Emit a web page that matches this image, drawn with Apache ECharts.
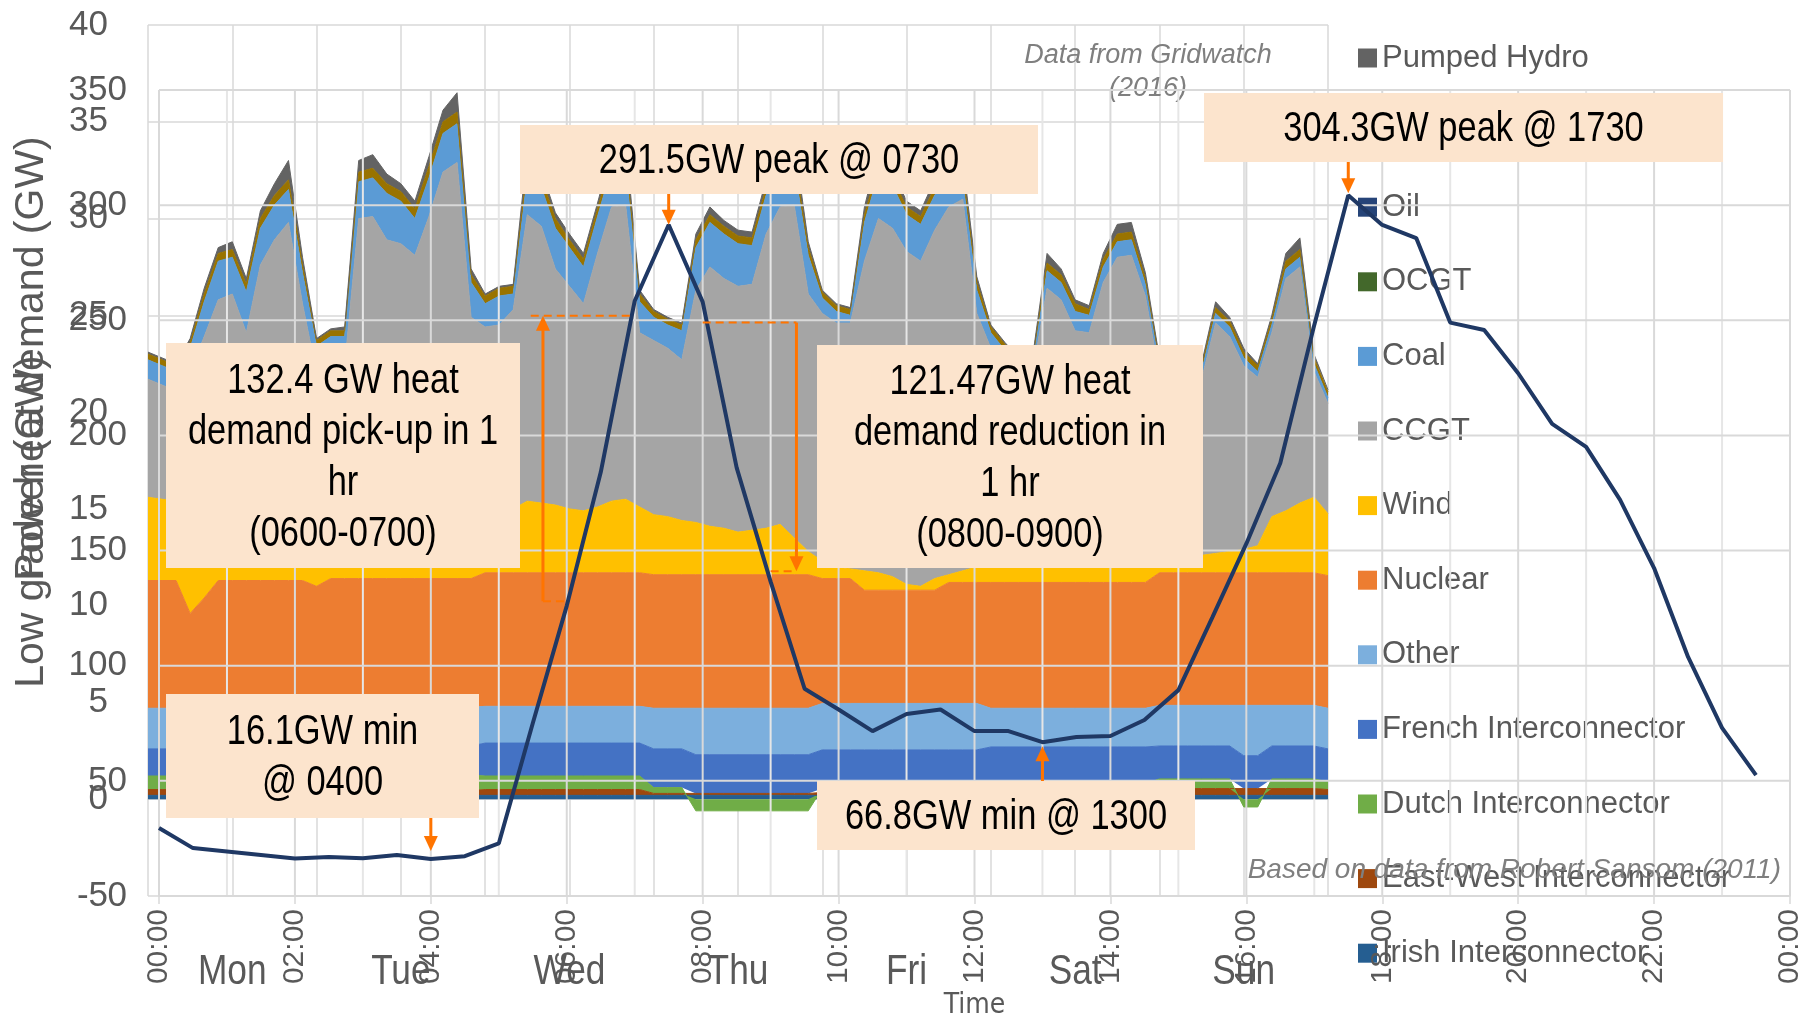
<!DOCTYPE html>
<html>
<head>
<meta charset="utf-8">
<title>Heat demand vs generation</title>
<script src="https://cdn.jsdelivr.net/npm/echarts@6/dist/echarts.min.js"></script>
<style>
  html, body { margin: 0; padding: 0; background: #fff; }
  #chart { width: 1819px; height: 1018px; }
</style>
</head>
<body>
<div id="chart"></div>
<script>
// Gridwatch week (2016), GW, one value every 2 hours from Mon 00:00 to next Mon 00:00
var days = ['Mon', 'Tue', 'Wed', 'Thu', 'Fri', 'Sat', 'Sun'];

var irish = [
  0.2, 0.2, 0.2, 0.2, 0.2, 0.2, 0.2, 0.2, 0.2, 0.2, 0.2, 0.2,
  0.2, 0.2, 0.2, 0.2, 0.2, 0.2, 0.2, 0.2, 0.2, 0.2, 0.2, 0.2,
  0.2, 0.2, 0.2, 0.2, 0.2, 0.2, 0.2, 0.2, 0.2, 0.2, 0.2, 0.2,
  0.2, 0.2, 0.2, 0.2, 0.2, 0.2, 0.2, 0.2, 0.2, 0.2, 0.2, 0.2,
  0.2, 0.2, 0.2, 0.2, 0.2, 0.2, 0.2, 0.2, 0.2, 0.2, 0.2, 0.2,
  0.2, 0.2, 0.2, 0.2, 0.2, 0.2, 0.2, 0.2, 0.2, 0.2, 0.2, 0.2,
  0.2, 0.2, 0.2, 0.2, 0.2, 0.2, 0.2, 0.2, 0.2, 0.2, 0.2, 0.2, 0.2
];
var eastWest = [
  0.3, 0.3, 0.3, 0.3, 0.3, 0.3, 0.3, 0.3, 0.3, 0.3, 0.3, 0.3,
  0.25, 0.25, 0.25, 0.25, 0.25, 0.25, 0.25, 0.25, 0.25, 0.25, 0.25, 0.25,
  0.3, 0.3, 0.3, 0.3, 0.3, 0.3, 0.3, 0.3, 0.3, 0.3, 0.3, 0.3,
  0.1, 0.1, 0.1, 0.1, 0.1, 0.1, 0.1, 0.1, 0.1, 0.1, 0.1, 0.1,
  0.15, 0.15, 0.15, 0.15, 0.15, 0.15, 0.15, 0.15, 0.15, 0.15, 0.15, 0.15,
  0.3, 0.3, 0.3, 0.3, 0.3, 0.3, 0.3, 0.3, 0.3, 0.3, 0.3, 0.3,
  0.35, 0.35, 0.35, 0.35, 0.35, 0.35, 0.35, 0.35, 0.35, 0.35, 0.35, 0.35, 0.3
];
var dutch = [
  0.7, 0.7, 0.7, 0.7, 0.7, 0.7, 0.7, 0.7, 0.7, 0.7, 0.7, 0.7,
  0.8, 0.8, 0.8, 0.8, 0.8, 0.8, 0.8, 0.8, 0.8, 0.8, 0.8, 0.8,
  0.7, 0.7, 0.7, 0.7, 0.7, 0.7, 0.7, 0.7, 0.7, 0.7, 0.7, 0.7,
  0.3, 0.3, 0.3, -0.6, -0.6, -0.6, -0.6, -0.6, -0.6, -0.6, -0.6, -0.6,
  0.2, 0.2, 0.2, 0.2, 0.2, 0.2, 0.2, 0.2, 0.2, 0.2, 0.2, 0.2,
  0.3, 0.3, 0.3, 0.3, 0.3, 0.3, 0.3, 0.3, 0.3, 0.3, 0.3, 0.3,
  0.5, 0.5, 0.5, 0.5, 0.5, 0.5, -0.4, -0.4, 0.5, 0.5, 0.5, 0.5, 0.4
];
var french = [
  1.4, 1.4, 1.4, 1.4, 1.4, 1.4, 1.4, 1.4, 1.4, 1.4, 1.4, 1.4,
  1.5, 1.5, 1.5, 1.5, 1.5, 1.5, 1.5, 1.5, 1.5, 1.5, 1.5, 1.5,
  1.7, 1.7, 1.7, 1.7, 1.7, 1.7, 1.7, 1.7, 1.7, 1.7, 1.7, 1.7,
  2.0, 2.0, 2.0, 2.0, 2.0, 2.0, 2.0, 2.0, 2.0, 2.0, 2.0, 2.0,
  2.0, 2.0, 2.0, 2.0, 2.0, 2.0, 2.0, 2.0, 2.0, 2.0, 2.0, 2.0,
  1.9, 1.9, 1.9, 1.9, 1.9, 1.9, 1.9, 1.9, 1.9, 1.9, 1.9, 1.9,
  1.7, 1.7, 1.7, 1.7, 1.7, 1.7, 1.7, 1.7, 1.7, 1.7, 1.7, 1.7, 1.7
];
var other = [
  2.1, 2.1, 2.1, 2.1, 2.1, 2.1, 2.1, 2.1, 2.1, 2.1, 2.1, 2.1,
  2.0, 2.0, 2.0, 2.0, 2.0, 2.0, 2.0, 2.0, 2.0, 2.0, 2.0, 2.0,
  1.9, 1.9, 1.9, 1.9, 1.9, 1.9, 1.9, 1.9, 1.9, 1.9, 1.9, 1.9,
  2.1, 2.1, 2.1, 2.4, 2.4, 2.4, 2.4, 2.4, 2.4, 2.4, 2.4, 2.4,
  2.4, 2.4, 2.4, 2.4, 2.4, 2.4, 2.4, 2.4, 2.4, 2.4, 2.4, 2.4,
  2.0, 2.0, 2.0, 2.0, 2.0, 2.0, 2.0, 2.0, 2.0, 2.0, 2.0, 2.0,
  2.1, 2.1, 2.1, 2.1, 2.1, 2.1, 2.6, 2.6, 2.1, 2.1, 2.1, 2.1, 2.1
];
var nuclear = [
  6.6, 6.6, 6.6, 4.9, 5.7, 6.6, 6.6, 6.6, 6.6, 6.6, 6.6, 6.6,
  6.25, 6.65, 6.65, 6.65, 6.65, 6.65, 6.65, 6.65, 6.65, 6.65, 6.65, 6.65,
  6.9, 6.9, 6.9, 6.9, 6.9, 6.9, 6.9, 6.9, 6.9, 6.9, 6.9, 6.9,
  6.9, 6.9, 6.9, 6.9, 6.9, 6.9, 6.9, 6.9, 6.9, 6.9, 6.9, 6.9,
  6.45, 6.45, 6.45, 5.85, 5.85, 5.85, 5.85, 5.85, 5.85, 6.25, 6.25, 6.25,
  6.5, 6.5, 6.5, 6.5, 6.5, 6.5, 6.5, 6.5, 6.5, 6.5, 6.5, 6.5,
  6.85, 6.85, 6.85, 6.85, 6.85, 6.85, 6.85, 6.85, 6.85, 6.85, 6.85, 6.85, 6.85
];
var wind = [
  4.3, 4.2, 4.1, 5.7, 4.8, 3.8, 3.7, 3.7, 3.6, 3.5, 3.5, 3.4,
  3.6, 3.1, 3.0, 2.9, 2.8, 2.7, 2.6, 2.6, 2.6, 2.7, 2.8, 2.9,
  2.7, 2.9, 3.3, 3.7, 3.6, 3.5, 3.3, 3.2, 3.4, 3.7, 3.8, 3.4,
  3.1, 3.0, 2.8, 2.7, 2.5, 2.4, 2.2, 2.3, 2.4, 2.6, 1.9, 1.2,
  0.9, 0.6, 0.5, 1.0, 0.9, 0.7, 0.3, 0.2, 0.6, 0.4, 0.6, 0.8,
  0.8, 0.8, 0.9, 1.0, 1.1, 1.1, 1.0, 0.8, 0.9, 1.1, 1.2, 1.3,
  0.8, 0.9, 0.9, 0.9, 1.0, 1.1, 1.2, 1.4, 2.9, 3.2, 3.6, 3.9, 3.2
];
var ccgt = [
  6.1, 5.9, 5.7, 6.8, 8.7, 10.7, 11.1, 9.1, 12.7, 14.1, 15.0, 10.9,
  7.4, 7.9, 8.0, 15.7, 15.9, 14.8, 14.7, 14.1, 16.1, 18.3, 18.7, 10.6,
  10.0, 9.9, 10.3, 14.8, 14.3, 12.2, 11.5, 10.7, 13.1, 15.2, 15.2, 9.0,
  9.0, 8.7, 8.3, 12.0, 13.4, 12.9, 12.7, 12.7, 15.2, 16.4, 17.2, 13.3,
  12.8, 12.6, 12.7, 16.0, 18.3, 18.0, 17.2, 16.8, 18.0, 19.0, 19.2, 13.1,
  11.3, 10.6, 9.8, 9.9, 14.1, 13.5, 12.0, 12.1, 14.6, 15.7, 15.7, 13.5,
  9.4, 8.9, 8.6, 9.1, 11.9, 11.1, 9.5, 8.7, 9.5, 12.0, 12.2, 6.5, 5.7
];
var coal = [
  1.0, 1.0, 1.0, 1.2, 1.8, 2.0, 1.9, 2.1, 1.9, 1.8, 1.7, 1.6,
  1.4, 1.5, 1.5, 1.9, 2.0, 2.4, 2.2, 1.9, 2.0, 2.0, 2.0, 1.8,
  1.2, 1.5, 0.8, 2.0, 2.0, 2.1, 2.0, 1.9, 1.9, 2.0, 2.0, 1.6,
  1.2, 1.2, 1.5, 2.2, 2.3, 2.3, 2.2, 2.0, 2.0, 2.0, 2.0, 2.0,
  0.8, 0.6, 0.4, 2.0, 2.3, 2.2, 1.9, 1.9, 1.8, 1.5, 1.0, 1.2,
  0.8, 0.6, 0.5, 0.5, 0.9, 0.9, 1.0, 0.9, 0.8, 0.8, 0.8, 0.6,
  0.5, 0.4, 0.4, 0.4, 0.5, 0.5, 0.4, 0.3, 0.4, 0.5, 0.5, 0.4, 0.3
];
var hydro = [
  0.3, 0.3, 0.3, 0.3, 0.4, 0.4, 0.4, 0.4, 0.5, 0.5, 0.5, 0.4,
  0.3, 0.3, 0.3, 0.5, 0.5, 0.5, 0.5, 0.5, 0.6, 0.6, 0.6, 0.4,
  0.4, 0.4, 0.4, 0.5, 0.5, 0.5, 0.4, 0.4, 0.4, 0.5, 0.5, 0.4,
  0.3, 0.3, 0.3, 0.4, 0.4, 0.4, 0.4, 0.4, 0.4, 0.4, 0.5, 0.4,
  0.3, 0.3, 0.3, 0.4, 0.4, 0.4, 0.4, 0.4, 0.4, 0.4, 0.4, 0.4,
  0.3, 0.3, 0.3, 0.3, 0.4, 0.4, 0.4, 0.3, 0.4, 0.4, 0.4, 0.3,
  0.3, 0.3, 0.3, 0.3, 0.3, 0.3, 0.3, 0.3, 0.3, 0.4, 0.4, 0.3, 0.3
];
var pumpedHydro = [
  0.1, 0.1, 0.1, 0.2, 0.3, 0.3, 0.4, 0.3, 0.4, 0.6, 1.0, 0.4,
  0.1, 0.1, 0.2, 0.6, 0.7, 0.5, 0.4, 0.4, 0.5, 0.6, 1.0, 0.3,
  0.1, 0.1, 0.1, 0.8, 0.4, 0.3, 0.3, 0.3, 0.3, 0.4, 0.8, 0.2,
  0.1, 0.1, 0.1, 0.3, 0.4, 0.3, 0.3, 0.3, 0.4, 0.5, 0.8, 0.3,
  0.1, 0.1, 0.1, 0.4, 0.8, 0.4, 0.3, 0.3, 0.4, 0.5, 0.6, 0.3,
  0.1, 0.1, 0.1, 0.1, 0.5, 0.3, 0.2, 0.2, 0.3, 0.5, 0.5, 0.3,
  0.1, 0.1, 0.1, 0.1, 0.3, 0.2, 0.2, 0.1, 0.2, 0.4, 0.6, 0.2, 0.1
];

// Sansom (2011) low grade heat demand, GW, every half hour from 00:00
var heatDemand = [
  29.5, 20.8, 19.3, 17.8, 16.3, 16.9, 16.4, 17.8, 16.1, 17.3, 22.8, 75,
  126, 184, 258.4, 291.5, 258, 186, 136.5, 90, 81, 71.6, 79, 81,
  71.6, 71.6, 66.8, 69, 69.5, 76.4, 89.4, 121, 153, 188, 248, 304.3,
  291.4, 285.7, 249, 245.8, 227, 205, 195, 172, 142.4, 103.8, 73, 52.5
];
var timeLabels = ['00:00', '02:00', '04:00', '06:00', '08:00', '10:00', '12:00',
                  '14:00', '16:00', '18:00', '20:00', '22:00', '00:00'];

var legendNames = ['Pumped Hydro', 'Hydro', 'Oil', 'OCGT', 'Coal', 'CCGT', 'Wind', 'Nuclear', 'Other',
  'French Interconnector', 'Dutch Interconnector', 'East-West Interconnector', 'Irish Interconnector'];

// hour slots of the generation week (category axis, every 2 h)
var genSlots = [];
for (var s = 0; s < irish.length; s++) genSlots.push(String(s * 2));

var REG = "'Liberation Sans', Arial, sans-serif";
var NARROW = "'Liberation Sans Narrow', 'Arial Narrow', 'DejaVu Sans Condensed', sans-serif";
var GREY = '#595959';
var GRID = '#d9d9d9';
var ORANGE = '#ff7400';
var PEACH = '#fce4cd';

var chart = echarts.init(document.getElementById('chart'));

// stacking order, bottom first
var layers = [
  {name: 'Irish Interconnector', data: irish, color: '#255e91'},
  {name: 'East-West Interconnector', data: eastWest, color: '#9e480e'},
  {name: 'Dutch Interconnector', data: dutch, color: '#70ad47'},
  {name: 'French Interconnector', data: french, color: '#4472c4'},
  {name: 'Other', data: other, color: '#7cafdd'},
  {name: 'Nuclear', data: nuclear, color: '#ed7d31'},
  {name: 'Wind', data: wind, color: '#ffc000'},
  {name: 'CCGT', data: ccgt, color: '#a5a5a5'},
  {name: 'Coal', data: coal, color: '#5b9bd5'},
  {name: 'Hydro', data: hydro, color: '#997300'},
  {name: 'Pumped Hydro', data: pumpedHydro, color: '#636363'}
];

var series = [];
layers.forEach(function (l) {
  series.push({
    name: l.name,
    type: 'line',
    xAxisIndex: 0,
    yAxisIndex: 0,
    stack: 'gen',
    data: l.data,
    symbol: 'none',
    lineStyle: {width: 1, color: l.color},
    areaStyle: {color: l.color, opacity: 1},
    itemStyle: {color: l.color},
    z: 1,
    silent: true
  });
});
// in the legend only, nothing visible in the week
series.push({name: 'Oil', type: 'line', xAxisIndex: 0, yAxisIndex: 0, data: [], itemStyle: {color: '#264478'}});
series.push({name: 'OCGT', type: 'line', xAxisIndex: 0, yAxisIndex: 0, data: [], itemStyle: {color: '#43682b'}});

// the heat chart sits on its own layer, above the generation chart
series.push({
  name: 'Low grade heat demand',
  type: 'line',
  xAxisIndex: 2,
  yAxisIndex: 1,
  data: heatDemand.map(function (v, i) { return [i * 0.5, v]; }),
  symbol: 'none',
  lineStyle: {color: '#1f3864', width: 4},
  itemStyle: {color: '#1f3864'},
  zlevel: 1,
  z: 6,
  silent: true
});

var option = {
  animation: false,
  backgroundColor: '#fff',
  grid: [
    {left: 148, top: 25, width: 1180, height: 871, outerBoundsMode: 'none'},
    {left: 159, top: 90, width: 1631, height: 806, outerBoundsMode: 'none'}
  ],
  xAxis: [
    {
      gridIndex: 0, type: 'category', data: genSlots, boundaryGap: false,
      axisLabel: {show: false}, axisTick: {show: false},
      axisLine: {show: true, lineStyle: {color: GRID, width: 1.5}},
      splitLine: {show: true, interval: 5, lineStyle: {color: GRID, width: 1.5}}
    },
    {
      gridIndex: 0, type: 'category', data: days, position: 'bottom', offset: 0,
      boundaryGap: true,
      axisLine: {show: false}, axisTick: {show: false}, splitLine: {show: false},
      axisLabel: {show: false}
    },
    {
      gridIndex: 1, type: 'value', min: 0, max: 24, interval: 2, zlevel: 1, z: 3,
      axisLine: {show: true, lineStyle: {color: GRID, width: 1.5}},
      axisTick: {show: true, length: 8, lineStyle: {color: GRID, width: 1.5}},
      splitLine: {show: false},
      axisLabel: {
        rotate: 90, fontFamily: REG, fontSize: 30, color: GREY, margin: 13,
        formatter: function (v) { return timeLabels[v / 2]; }
      },
      name: 'Time', nameLocation: 'middle', nameGap: 96,
      nameTextStyle: {fontFamily: NARROW, fontSize: 28, color: GREY}
    }
  ],
  yAxis: [
    {
      gridIndex: 0, type: 'value', min: -5, max: 40, interval: 5,
      axisLine: {show: false}, axisTick: {show: false},
      splitLine: {show: true, lineStyle: {color: GRID, width: 1.5}},
      axisLabel: {fontFamily: REG, fontSize: 35, color: GREY, margin: 40}
    },
    {
      gridIndex: 1, type: 'value', min: 0, max: 350, interval: 50, zlevel: 1, z: 3,
      axisLine: {show: false}, axisTick: {show: false},
      splitLine: {show: false},
      axisLabel: {fontFamily: REG, fontSize: 35, color: GREY, margin: 32}
    }
  ],
  legend: {
    data: legendNames,
    orient: 'vertical',
    left: 1353,
    top: 36,
    icon: 'rect',
    itemWidth: 19,
    itemHeight: 19,
    itemGap: 40.6,
    selectedMode: false,
    textStyle: {fontFamily: REG, fontSize: 31, color: GREY, lineHeight: 34, padding: [0, 0, 0, 0]},
    z: 2
  },
  series: series
};
chart.setOption(option);

// annotations: boxes are layout, arrow tips come from the heat-demand scale
function px(h, v) {
  return chart.convertToPixel({xAxisIndex: 2, yAxisIndex: 1}, [h, v]);
}
function narrowText(x, y, text, size, color, extra) {
  var el = {type: 'text', x: x, y: y, scaleX: 0.82, zlevel: 1, z: 21,
    style: {text: text, fill: color, font: size + 'px ' + REG, align: 'center', verticalAlign: 'middle'}};
  if (extra) for (var k in extra) el.style[k] = extra[k];
  return el;
}
function box(x, y, w, h, text) {
  return [
    {type: 'rect', shape: {x: x, y: y, width: w, height: h}, style: {fill: PEACH}, zlevel: 1, z: 20},
    narrowText(x + w / 2, y + h / 2 + 2, text, 42, '#000', {lineHeight: 51})
  ];
}
function arrow(x, yFrom, yTo) {
  var dir = yTo > yFrom ? 1 : -1;
  return [
    {type: 'line', shape: {x1: x, y1: yFrom, x2: x, y2: yTo - dir * 12}, style: {stroke: ORANGE, lineWidth: 3}, zlevel: 1, z: 22},
    {type: 'polygon', shape: {points: [[x - 7, yTo - dir * 15], [x + 7, yTo - dir * 15], [x, yTo]]}, style: {fill: ORANGE}, zlevel: 1, z: 22}
  ];
}
function dash(x1, x2, y) {
  return {type: 'line', shape: {x1: x1, y1: y, x2: x2, y2: y}, style: {stroke: ORANGE, lineWidth: 2, lineDash: [8, 5]}, zlevel: 1, z: 22};
}

var g = [];

// the heat chart's grid is pasted over the generation areas: its lines go on the top layer
var hTop = px(0, 350)[1], hBottom = px(0, 0)[1];
var hLeft = px(0, 0)[0], hRight = px(24, 0)[0];
for (var hr = 0; hr <= 24; hr++) {
  var gx = px(hr, 0)[0];
  g.push({type: 'line', shape: {x1: gx, y1: hTop, x2: gx, y2: hBottom}, silent: true,
    style: {stroke: hr % 2 === 0 ? GRID : '#e6e6e6', lineWidth: 2}, zlevel: 1, z: 2});
}
for (var gv = 0; gv <= 350; gv += 50) {
  var gy = px(0, gv)[1];
  g.push({type: 'line', shape: {x1: hLeft, y1: gy, x2: hRight, y2: gy}, silent: true,
    style: {stroke: GRID, lineWidth: 2}, zlevel: 1, z: 2});
}

// axis names (the two charts' titles sit on top of each other)
g.push({type: 'text', x: 32, y: 412, rotation: Math.PI / 2, zlevel: 1, z: 5,
  style: {text: 'Low grade heat demand (GW)', fill: GREY, font: '41px ' + REG, align: 'center', verticalAlign: 'middle'}});
g.push({type: 'text', x: 32, y: 468, rotation: Math.PI / 2, z: 5,
  style: {text: 'Power (GW)', fill: GREY, font: '41px ' + REG, align: 'center', verticalAlign: 'middle'}});

// day names under the generation week
days.forEach(function (d) {
  var x = chart.convertToPixel({xAxisIndex: 1}, d);
  var t = narrowText(x, 972, d, 43, GREY, {});
  t.zlevel = 0; t.z = 5;
  g.push(t);
});

g = g.concat(box(166, 343, 354, 225, '132.4 GW heat\ndemand pick-up in 1\nhr\n(0600-0700)'));
g = g.concat(box(520, 125, 518, 69, '291.5GW peak @ 0730'));
g = g.concat(box(1204, 93, 519, 69, '304.3GW peak @ 1730'));
g = g.concat(box(817, 345, 386, 223, '121.47GW heat\ndemand reduction in\n1 hr\n(0800-0900)'));
g = g.concat(box(166, 694, 313, 124, '16.1GW min\n@ 0400'));
g = g.concat(box(817, 781, 378, 69, '66.8GW min @ 1300'));

var p;
p = px(7.5, 291.5); g = g.concat(arrow(p[0], 194, p[1]));
p = px(17.5, 304.3); g = g.concat(arrow(p[0], 162, p[1] - 2));
p = px(4, 16.1); g = g.concat(arrow(p[0], 818, p[1] - 8));
p = px(13, 66.8); g = g.concat(arrow(p[0], 781, p[1] + 4));

// pick-up 06:00 -> 07:00
var a1 = px(5.65, 128), a2 = px(5.65, 252), a3 = px(7, 252), a4 = px(6, 128), a5 = px(5.47, 252);
g = g.concat(arrow(a1[0], a1[1], a2[1]));
g.push(dash(a5[0], a3[0], a2[1]));
g.push(dash(a1[0], a4[0], a1[1]));
// reduction 08:00 -> 09:00
var b1 = px(9.38, 249), b2 = px(9.38, 141), b3 = px(8, 249), b4 = px(9, 141);
g = g.concat(arrow(b1[0], b1[1], b2[1]));
g.push(dash(b3[0], b1[0], b1[1]));
g.push(dash(b4[0], b1[0], b2[1]));

g.push({type: 'text', x: 1148, y: 72, z: 15,
  style: {text: 'Data from Gridwatch\n(2016)', fill: '#7f7f7f', font: 'italic 27px ' + REG,
    align: 'center', verticalAlign: 'middle', lineHeight: 33}});
g.push({type: 'text', x: 1781, y: 870, zlevel: 1, z: 15,
  style: {text: 'Based on data from Robert Sansom (2011)', fill: '#7f7f7f', font: 'italic 28px ' + REG,
    align: 'right', verticalAlign: 'middle'}});

chart.setOption({graphic: g});
</script>
</body>
</html>
